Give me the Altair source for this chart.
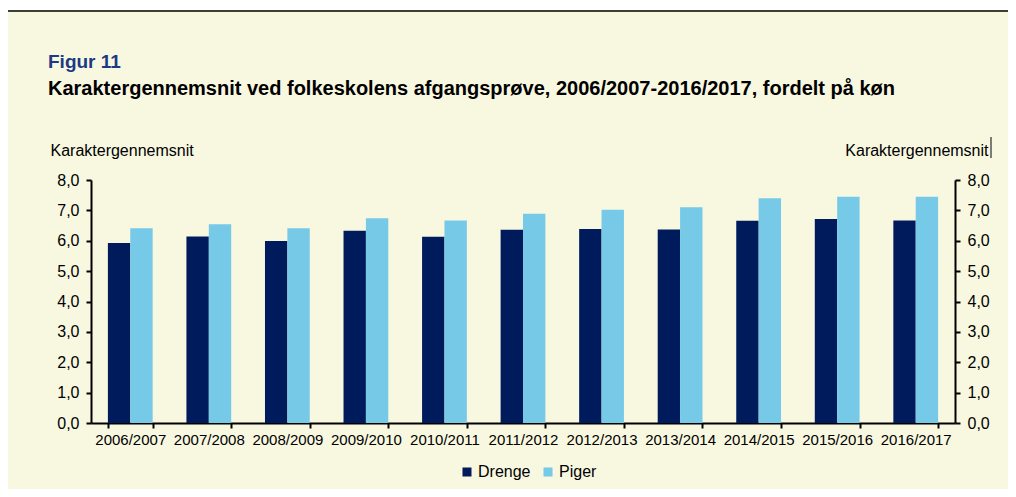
import altair as alt
import pandas as pd

periods = ["2006/2007", "2007/2008", "2008/2009", "2009/2010", "2010/2011", "2011/2012",
           "2012/2013", "2013/2014", "2014/2015", "2015/2016", "2016/2017"]
drenge = [5.93, 6.14, 5.99, 6.33, 6.13, 6.36, 6.39, 6.37, 6.66, 6.72, 6.67]
piger = [6.41, 6.54, 6.41, 6.74, 6.67, 6.89, 7.02, 7.10, 7.40, 7.45, 7.45]
series = ["Drenge", "Piger"]
colors = ["#001B5C", "#76C9E7"]

fig_label = "Figur 11"
title_text = "Karaktergennemsnit ved folkeskolens afgangsprøve, 2006/2007-2016/2017, fordelt på køn"
axis_title = "Karaktergennemsnit"

rows = []
for i, p in enumerate(periods):
    rows.append({"periode": p, "køn": series[0], "værdi": drenge[i]})
    rows.append({"periode": p, "køn": series[1], "værdi": piger[i]})
df = pd.DataFrame(rows)

FONT = "Liberation Sans"
label_expr = "replace(format(datum.value, '.1f'), '.', ',')"

x_enc = alt.X("periode:N", sort=periods, title=None,
              scale=alt.Scale(paddingInner=0.43, paddingOuter=0.215),
              axis=alt.Axis(labelAngle=0, labelFont=FONT, labelFontSize=15, labelColor="#000000",
                            domainColor="#000000", domainWidth=2, tickColor="#000000", tickWidth=2,
                            tickSize=5, tickBand="extent", labelPadding=4))


def y_axis(orient, tx, align):
    return alt.Axis(orient=orient, values=[0, 1, 2, 3, 4, 5, 6, 7, 8], labelExpr=label_expr,
                    grid=False, labelFont=FONT, labelFontSize=16, labelColor="#000000",
                    domainColor="#000000", domainWidth=2, tickColor="#000000", tickWidth=2,
                    tickSize=5, labelPadding=7,
                    titleAngle=0, titleX=tx, titleY=-30, titleAlign=align,
                    titleBaseline="middle", titleFont=FONT, titleFontSize=16,
                    titleFontWeight="normal", titleColor="#000000")


bars = alt.Chart(df).mark_bar().encode(
    x=x_enc,
    xOffset=alt.XOffset("køn:N", sort=series, scale=alt.Scale(paddingInner=0, paddingOuter=0)),
    y=alt.Y("værdi:Q", scale=alt.Scale(domain=[0, 8]), title=axis_title,
            axis=y_axis("left", -41, "left")),
    color=alt.Color("køn:N", sort=series, scale=alt.Scale(domain=series, range=colors),
                    legend=alt.Legend(title=None, orient="none", legendX=368, legendY=284,
                                      direction="horizontal", symbolType="square", symbolSize=81,
                                      symbolStrokeWidth=0, labelFont=FONT, labelFontSize=16,
                                      labelColor="#000000", labelOffset=3, columnPadding=9)),
)

right = alt.Chart(df).mark_bar(opacity=0).encode(
    x=alt.X("periode:N", sort=periods),
    y=alt.Y("værdi:Q", scale=alt.Scale(domain=[0, 8]), title=axis_title,
            axis=y_axis("right", 33, "right")),
)

fig_df = pd.DataFrame({"t": [fig_label]})
title_df = pd.DataFrame({"t": [title_text]})

fig_txt = alt.Chart(fig_df).mark_text(align="left", baseline="middle", font=FONT, fontSize=19,
                                      fontWeight="bold", color="#1C3A84").encode(
    x=alt.value(-43), y=alt.value(-118), text="t:N")
title_txt = alt.Chart(title_df).mark_text(align="left", baseline="middle", font=FONT, fontSize=20,
                                          fontWeight="bold", color="#000000").encode(
    x=alt.value(-43), y=alt.value(-91), text="t:N")

top_white = alt.Chart(fig_df).mark_rect(color="#FFFFFF").encode(
    x=alt.value(-83), x2=alt.value(917), y=alt.value(-172), y2=alt.value(-170))
top_line = alt.Chart(fig_df).mark_rule(color="#000000", strokeWidth=1.5).encode(
    x=alt.value(-83), x2=alt.value(917), y=alt.value(-169))
cursor = alt.Chart(fig_df).mark_rule(color="#000000", strokeWidth=1).encode(
    x=alt.value(900), y=alt.value(-43), y2=alt.value(-22))

chart = alt.layer(top_white, top_line, cursor, bars, right, fig_txt, title_txt).resolve_scale(
    y="independent"
).properties(
    width=864, height=243,
    padding={"left": 83, "right": 53, "top": 172, "bottom": 66},
    autosize=alt.AutoSizeParams(type="none"),
    background="#F8F8E1",
).configure_view(stroke=None)

chart.save("out.html", embed_options={"renderer": "svg", "actions": False})
